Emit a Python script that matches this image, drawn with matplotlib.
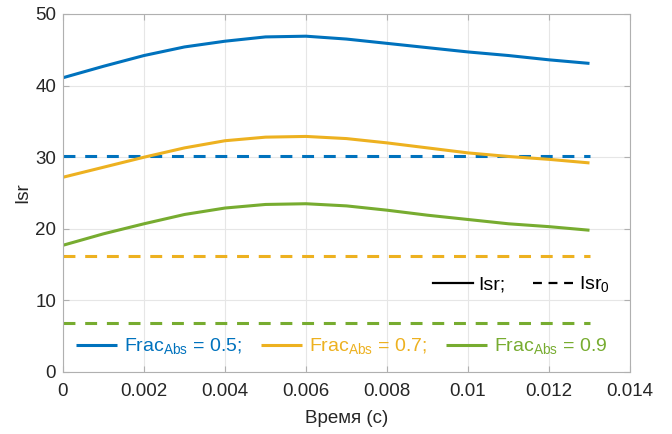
import matplotlib
matplotlib.use("Agg")
import matplotlib.pyplot as plt
from matplotlib.lines import Line2D

plt.rcParams['font.family'] = ['Liberation Sans', 'DejaVu Sans']

# time samples (s)
t = [0.000, 0.001, 0.002, 0.003, 0.004, 0.005, 0.006,
     0.007, 0.008, 0.009, 0.010, 0.011, 0.012, 0.013]

# Isr for each absorbed fraction
isr_05 = [41.1, 42.7, 44.2, 45.4, 46.2, 46.8, 46.9, 46.5, 45.9, 45.3, 44.7, 44.2, 43.6, 43.1]
isr_07 = [27.2, 28.6, 30.0, 31.3, 32.3, 32.8, 32.9, 32.6, 32.0, 31.3, 30.6, 30.1, 29.7, 29.2]
isr_09 = [17.7, 19.3, 20.7, 22.0, 22.9, 23.4, 23.5, 23.2, 22.6, 21.9, 21.3, 20.7, 20.3, 19.8]

# reference levels Isr_0
isr0_05 = 30.2
isr0_07 = 16.2
isr0_09 = 6.9

frac_labels = ['0.5', '0.7', '0.9']
colors = ['#0072BD', '#EDB120', '#77AC30']

fig = plt.figure(figsize=(6.72, 4.34), dpi=100)
ax = fig.add_axes([63/672, 1 - 372/434, (630 - 63)/672, (372 - 14)/434])

series = [isr_05, isr_07, isr_09]
levels = [isr0_05, isr0_07, isr0_09]
handles = []
for y, lvl, c in zip(series, levels, colors):
    h, = ax.plot(t, y, color=c, lw=2.2, solid_capstyle='butt')
    ax.plot([t[0], t[-1]], [lvl, lvl], color=c, lw=2.2, ls=(0, (3.9, 3.2)))
    handles.append(h)

ax.set_xlim(0, 0.014)
ax.set_ylim(0, 50)
ax.set_xticks([0, 0.002, 0.004, 0.006, 0.008, 0.01, 0.012, 0.014])
ax.set_xticklabels(['0', '0.002', '0.004', '0.006', '0.008', '0.01', '0.012', '0.014'])
ax.set_yticks([0, 10, 20, 30, 40, 50])

ax.grid(True, color='#e6e6e6', lw=0.8)
ax.set_axisbelow(True)
for s in ax.spines.values():
    s.set_color('#b0b0b0')
    s.set_linewidth(0.8)
ax.tick_params(direction='in', length=4, width=0.8, color='#b0b0b0',
               labelsize=13.5, labelcolor='#262626',
               top=True, right=True)
ax.tick_params(axis='x', pad=8)
ax.tick_params(axis='y', pad=5)

ax.set_xlabel('Время (с)', fontsize=13.5, color='#262626', labelpad=7)
ax.set_ylabel('Isr', fontsize=13.5, color='#262626', labelpad=3)

leg1 = ax.legend(handles,
                 [r'Frac$_{\mathregular{Abs}}$ = %s%s' % (v, ';' if i < 2 else '')
                  for i, v in enumerate(frac_labels)],
                 loc='center left', bbox_to_anchor=(13/567, 0.07), ncol=3,
                 frameon=False, fontsize=14, labelcolor='linecolor',
                 handlelength=2.1, handletextpad=0.35, columnspacing=1.0,
                 borderpad=0, borderaxespad=0)
ax.add_artist(leg1)

style_handles = [Line2D([], [], color='black', lw=1.6),
                 Line2D([], [], color='black', lw=1.6, ls=(0, (4, 3)))]
ax.legend(style_handles, ['Isr;', r'Isr$_{\mathregular{0}}$'],
          loc='center left', bbox_to_anchor=(370/567, 0.243), ncol=2,
          frameon=False, fontsize=14, handlelength=2.05,
          handletextpad=0.3, columnspacing=1.4,
          borderpad=0, borderaxespad=0)

fig.savefig('out.png', dpi=100)
